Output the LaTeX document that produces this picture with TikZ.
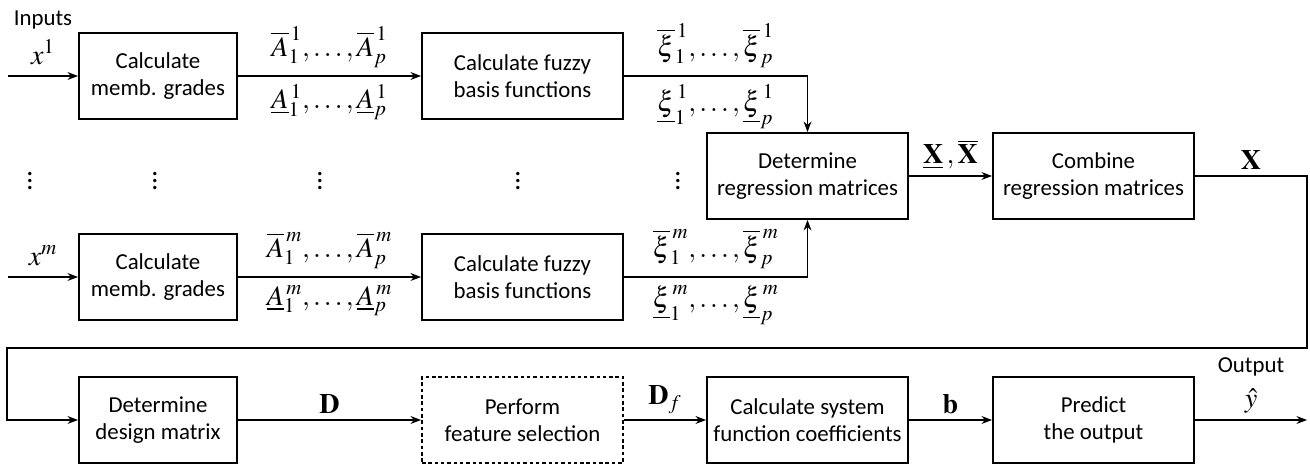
\documentclass[tikz,border=0pt]{standalone}
\usepackage{mathptmx}
\usepackage[no-math]{fontspec}
\setmainfont{Carlito}
\usetikzlibrary{arrows.meta,positioning}

\begin{document}
\begin{tikzpicture}[font=\fontsize{13}{15.5}\selectfont,
  >={Stealth[length=6pt,width=4.5pt]},
  blk/.style={draw, line width=1.1pt, minimum height=1.72cm, align=center, inner sep=0pt},
  blkA/.style={blk, minimum width=3.16cm},
  blkB/.style={blk, minimum width=4.02cm},
  fsblk/.style={blkB, dash pattern=on 2pt off 1.6pt},
  lbl/.style={font=\fontsize{16}{19}\selectfont},
  flow/.style={->, line width=0.6pt}]
\useasboundingbox (0,0) rectangle (26.2,9.3);
% Branch of input 1
\node[blkA] (calc1) at (3.16,7.78) {Calculate\\memb. grades};
\node[blkB] (fbf1) at (10.45,7.78) {Calculate fuzzy\\basis functions};
% Branch of input m
\node[blkA] (calcm) at (3.16,3.76) {Calculate\\memb. grades};
\node[blkB] (fbfm) at (10.45,3.76) {Calculate fuzzy\\basis functions};
% Regression matrices
\node[blkB] (regr) at (16.15,5.78) {Determine\\regression matrices};
\node[blkB] (comb) at (21.87,5.78) {Combine\\regression matrices};
% Bottom row
\node[blkA] (design) at (3.16,0.9) {Determine\\design matrix};
\node[fsblk] (featsel) at (10.45,0.9) {Perform\\feature selection};
\node[blkB] (coef) at (16.15,0.9) {Calculate system\\function coefficients};
\node[blkB] (pred) at (21.87,0.9) {Predict\\the output};
% Free ends
\coordinate (in1) at (0.16,7.78);
\coordinate (inm) at (0.16,3.76);
\coordinate (loopR) at (26.14,2.34);
\coordinate (loopL) at (0.14,2.34);
\coordinate (out) at (26.14,0.9);
% Vertical dots
\foreach \x [count=\i] in {0.6,3.1,6.4,10.36,13.56}
  \node[lbl] (dots\i) at (\x,5.78) {$\vdots$};
% Both branches
\foreach \r/\a in {1/north, m/south} {
  \draw[flow] (in\r) -- node[lbl, above=3pt] (x\r) {$x^{\r}$} (calc\r);
  \draw[flow] (calc\r) -- node[lbl, above=1pt] {$\overline{A}_1^{\,\r},\ldots,\overline{A}_p^{\,\r}$}
    node[lbl, below=1pt] {$\underline{A}_1^{\,\r},\ldots,\underline{A}_p^{\,\r}$} (fbf\r);
  \draw[flow] (fbf\r.east) -| node[lbl, pos=0.25, above=1pt] {$\overline{\xi}_1^{\,\r},\ldots,\overline{\xi}_p^{\,\r}$}
    node[lbl, pos=0.25, below=1pt] {$\underline{\xi}_1^{\,\r},\ldots,\underline{\xi}_p^{\,\r}$} (regr.\a);
}
\node[above=-1pt of x1] {Inputs};
\draw[flow] (regr) -- node[lbl, above] {$\underline{\mathbf{X}}\,,\overline{\mathbf{X}}$} (comb);
% Loop back to the design matrix
\draw[flow] (comb.east) -| node[lbl, pos=0.25, above] {$\mathbf{X}$} (loopR) -- (loopL) |- (design.west);
\foreach \a/\b/\t in {design/featsel/{\mathbf{D}}, featsel/coef/{\mathbf{D}_f}, coef/pred/{\mathbf{b}}}
  \draw[flow] (\a) -- node[lbl, above] {$\t$} (\b);
\draw[flow] (pred) -- node[lbl, above] (yhat) {$\hat{y}$} (out);
\node[above=0pt of yhat] {Output};
\end{tikzpicture}
\end{document}
